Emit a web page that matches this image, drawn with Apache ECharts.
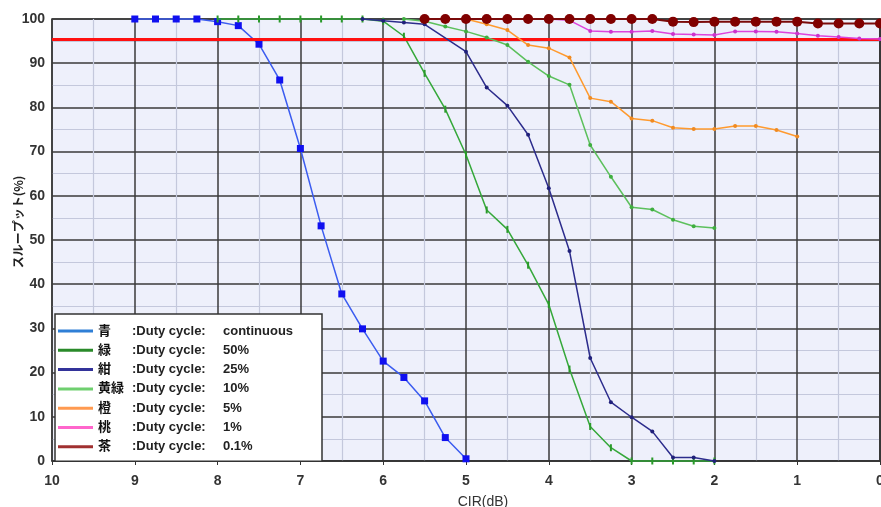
<!DOCTYPE html>
<html>
<head>
<meta charset="utf-8">
<script src="https://cdn.jsdelivr.net/npm/echarts@6/dist/echarts.min.js"></script>
<style>
html,body{margin:0;padding:0;background:#fff;}
#c{width:881px;height:507px;}
</style>
</head>
<body>
<div id="c"></div>
<script>
// ---- data (x = CIR dB, y = throughput %) ----
const seriesNames = ['青', '緑', '紺', '黄緑', '橙', '桃', '茶'];
const dutyLabels = ['continuous', '50%', '25%', '10%', '5%', '1%', '0.1%'];
const xTicks = [10, 9, 8, 7, 6, 5, 4, 3, 2, 1, 0];
const yTicks = [0, 10, 20, 30, 40, 50, 60, 70, 80, 90, 100];
const threshold = 95.5;

const blueData = [[9,100],[8.75,100],[8.5,100],[8.25,100],[8,99.4],[7.75,98.5],[7.5,94.3],[7.25,86.2],[7,70.7],[6.75,53.2],[6.5,37.8],[6.25,29.9],[6,22.6],[5.75,18.9],[5.5,13.6],[5.25,5.3],[5,0.5]];
const greenData = [[8,100],[7.75,100],[7.5,100],[7.25,100],[7,100],[6.75,100],[6.5,100],[6.25,100],[6,99.5],[5.75,96.1],[5.5,87.7],[5.25,79.6],[5,69.3],[4.75,56.8],[4.5,52.4],[4.25,44.3],[4,35.4],[3.75,20.8],[3.5,7.8],[3.25,3.0],[3,0],[2.75,0],[2.5,0],[2.25,0],[2,0]];
const navyData = [[6.25,100],[6,99.6],[5.75,99.2],[5.5,98.8],[5,92.6],[4.75,84.5],[4.5,80.4],[4.25,73.8],[4,61.7],[3.75,47.5],[3.5,23.3],[3.25,13.3],[3,9.9],[2.75,6.7],[2.5,0.8],[2.25,0.8],[2,0]];
const lightGreenData = [[5.75,100],[5.5,99.5],[5.25,98.3],[5,97.2],[4.75,95.8],[4.5,94.1],[4.25,90.3],[4,87.1],[3.75,85.1],[3.5,71.5],[3.25,64.3],[3,57.4],[2.75,56.9],[2.5,54.6],[2.25,53.1],[2,52.7]];
const orangeData = [[5,100],[4.75,98.8],[4.5,97.5],[4.25,94.1],[4,93.4],[3.75,91.3],[3.5,82.1],[3.25,81.3],[3,77.5],[2.75,77.0],[2.5,75.4],[2.25,75.1],[2,75.1],[1.75,75.8],[1.5,75.8],[1.25,74.9],[1,73.4]];
const pinkData = [[4,100],[3.75,99.7],[3.5,97.3],[3.25,97.1],[3,97.1],[2.75,97.3],[2.5,96.6],[2.25,96.5],[2,96.4],[1.75,97.2],[1.5,97.2],[1.25,97.1],[1,96.7],[0.75,96.2],[0.5,95.9],[0.25,95.6],[0,95.5]];
const brownData = [[5.5,100],[5.25,100],[5,100],[4.75,100],[4.5,100],[4.25,100],[4,100],[3.75,100],[3.5,100],[3.25,100],[3,100],[2.75,100],[2.5,99.4],[2.25,99.3],[2,99.4],[1.75,99.4],[1.5,99.4],[1.25,99.4],[1,99.4],[0.75,99.0],[0.5,99.0],[0.25,99.0],[0,99.0]];

const allData = [blueData, greenData, navyData, lightGreenData, orangeData, pinkData, brownData];
const lineColors = ['#3b5cf0', '#35a83a', '#2c2c8c', '#5cc05c', '#ff9a2e', '#dd44dd', '#7a0a0a'];
const markColors = ['#1010f0', '#2a9a2a', '#20207a', '#3fae3f', '#f08a20', '#cc33cc', '#800000'];
const legendColors = ['#2f7fd6', '#2a8a2a', '#33339a', '#6fcf6f', '#ff9a50', '#ff66cc', '#a03030'];
const symbols = ['rect', 'rect', 'circle', 'circle', 'circle', 'circle', 'circle'];
const symbolSizes = [7, [2, 7], 4, 4, 4, 4, 10];

const series = seriesNames.map((n, i) => ({
  name: n,
  type: 'line',
  data: allData[i],
  symbol: symbols[i],
  symbolSize: symbolSizes[i],
  showAllSymbol: true,
  clip: false,
  lineStyle: { color: lineColors[i], width: i === 6 ? 2 : 1.5 },
  itemStyle: { color: markColors[i] },
  z: 3 + i
}));
series.push({
  name: 'threshold',
  type: 'line',
  data: [],
  markLine: {
    silent: true,
    symbol: 'none',
    label: { show: false },
    lineStyle: { color: '#ff1010', width: 3, type: 'solid' },
    data: [{ yAxis: threshold }]
  },
  z: 2
});

const legendFont = 'Liberation Sans, Noto Sans CJK JP, sans-serif';

const chart = echarts.init(document.getElementById('c'));
chart.setOption({
  animation: false,
  backgroundColor: '#ffffff',
  grid: {
    left: 52, right: 1, top: 19, bottom: 46,
    containLabel: false, outerBoundsMode: 'none',
    show: true, backgroundColor: '#eef0fb', borderColor: '#333', borderWidth: 1.5
  },
  xAxis: {
    type: 'value', inverse: true, min: 0, max: 10, interval: 1,
    name: 'CIR(dB)', nameLocation: 'middle', nameGap: 34, nameMoveOverlap: false,
    nameTextStyle: { fontSize: 14, color: '#333', fontFamily: 'Liberation Sans, Noto Sans CJK JP', padding: [0, 0, 0, 34] },
    axisLine: { show: true, lineStyle: { color: '#333', width: 1.5 } },
    axisTick: { show: true, length: 4, lineStyle: { color: '#333' } },
    axisLabel: { fontSize: 14, fontWeight: 'bold', color: '#333', margin: 13, fontFamily: 'Liberation Sans' },
    splitLine: { show: true, lineStyle: { color: '#3a3a3a', width: 1.5 } },
    minorTick: { show: false, splitNumber: 2 },
    minorSplitLine: { show: true, lineStyle: { color: '#c4c8dc', width: 1.2 } }
  },
  yAxis: {
    type: 'value', min: 0, max: 100, interval: 10,
    name: 'スループット(%)', nameLocation: 'middle', nameGap: 28, nameMoveOverlap: false,
    nameTextStyle: { fontSize: 12, color: '#222', fontWeight: 'bold', fontFamily: 'Noto Sans CJK JP', padding: [0, 0, 0, 36] },
    axisLine: { show: true, lineStyle: { color: '#333', width: 1.5 } },
    axisTick: { show: false },
    axisLabel: { fontSize: 14, fontWeight: 'bold', color: '#333', margin: 7, fontFamily: 'Liberation Sans' },
    splitLine: { show: true, lineStyle: { color: '#3a3a3a', width: 1.5 } },
    minorTick: { show: false, splitNumber: 2 },
    minorSplitLine: { show: true, lineStyle: { color: '#c4c8dc', width: 1.2 } }
  },
  legend: {
    orient: 'vertical', left: 55, top: 314,
    padding: [10.5, 9, 8, 3],
    backgroundColor: '#ffffff', borderColor: '#333', borderWidth: 1.5,
    itemWidth: 35, itemHeight: 3, itemGap: 6.3, icon: 'rect',
    selectedMode: false,
    data: seriesNames.map((n, i) => ({ name: n, icon: 'rect', itemStyle: { color: legendColors[i] } })),
    formatter: function (name) {
      const i = seriesNames.indexOf(name);
      return '{k|' + name + '}{t|:Duty cycle:}{v|' + dutyLabels[i] + '}';
    },
    textStyle: {
      color: '#111', fontSize: 13, fontFamily: legendFont,
      rich: {
        k: { width: 34, fontSize: 13, fontWeight: 'bold', fontFamily: legendFont, lineHeight: 15, color: '#111', verticalAlign: 'middle' },
        t: { width: 91, fontSize: 13, fontWeight: 'bold', fontFamily: legendFont, lineHeight: 15, color: '#222', verticalAlign: 'middle' },
        v: { width: 90, fontSize: 13, fontWeight: 'bold', fontFamily: legendFont, lineHeight: 15, color: '#222', verticalAlign: 'middle' }
      }
    }
  },
  series: series
});
</script>
</body>
</html>
